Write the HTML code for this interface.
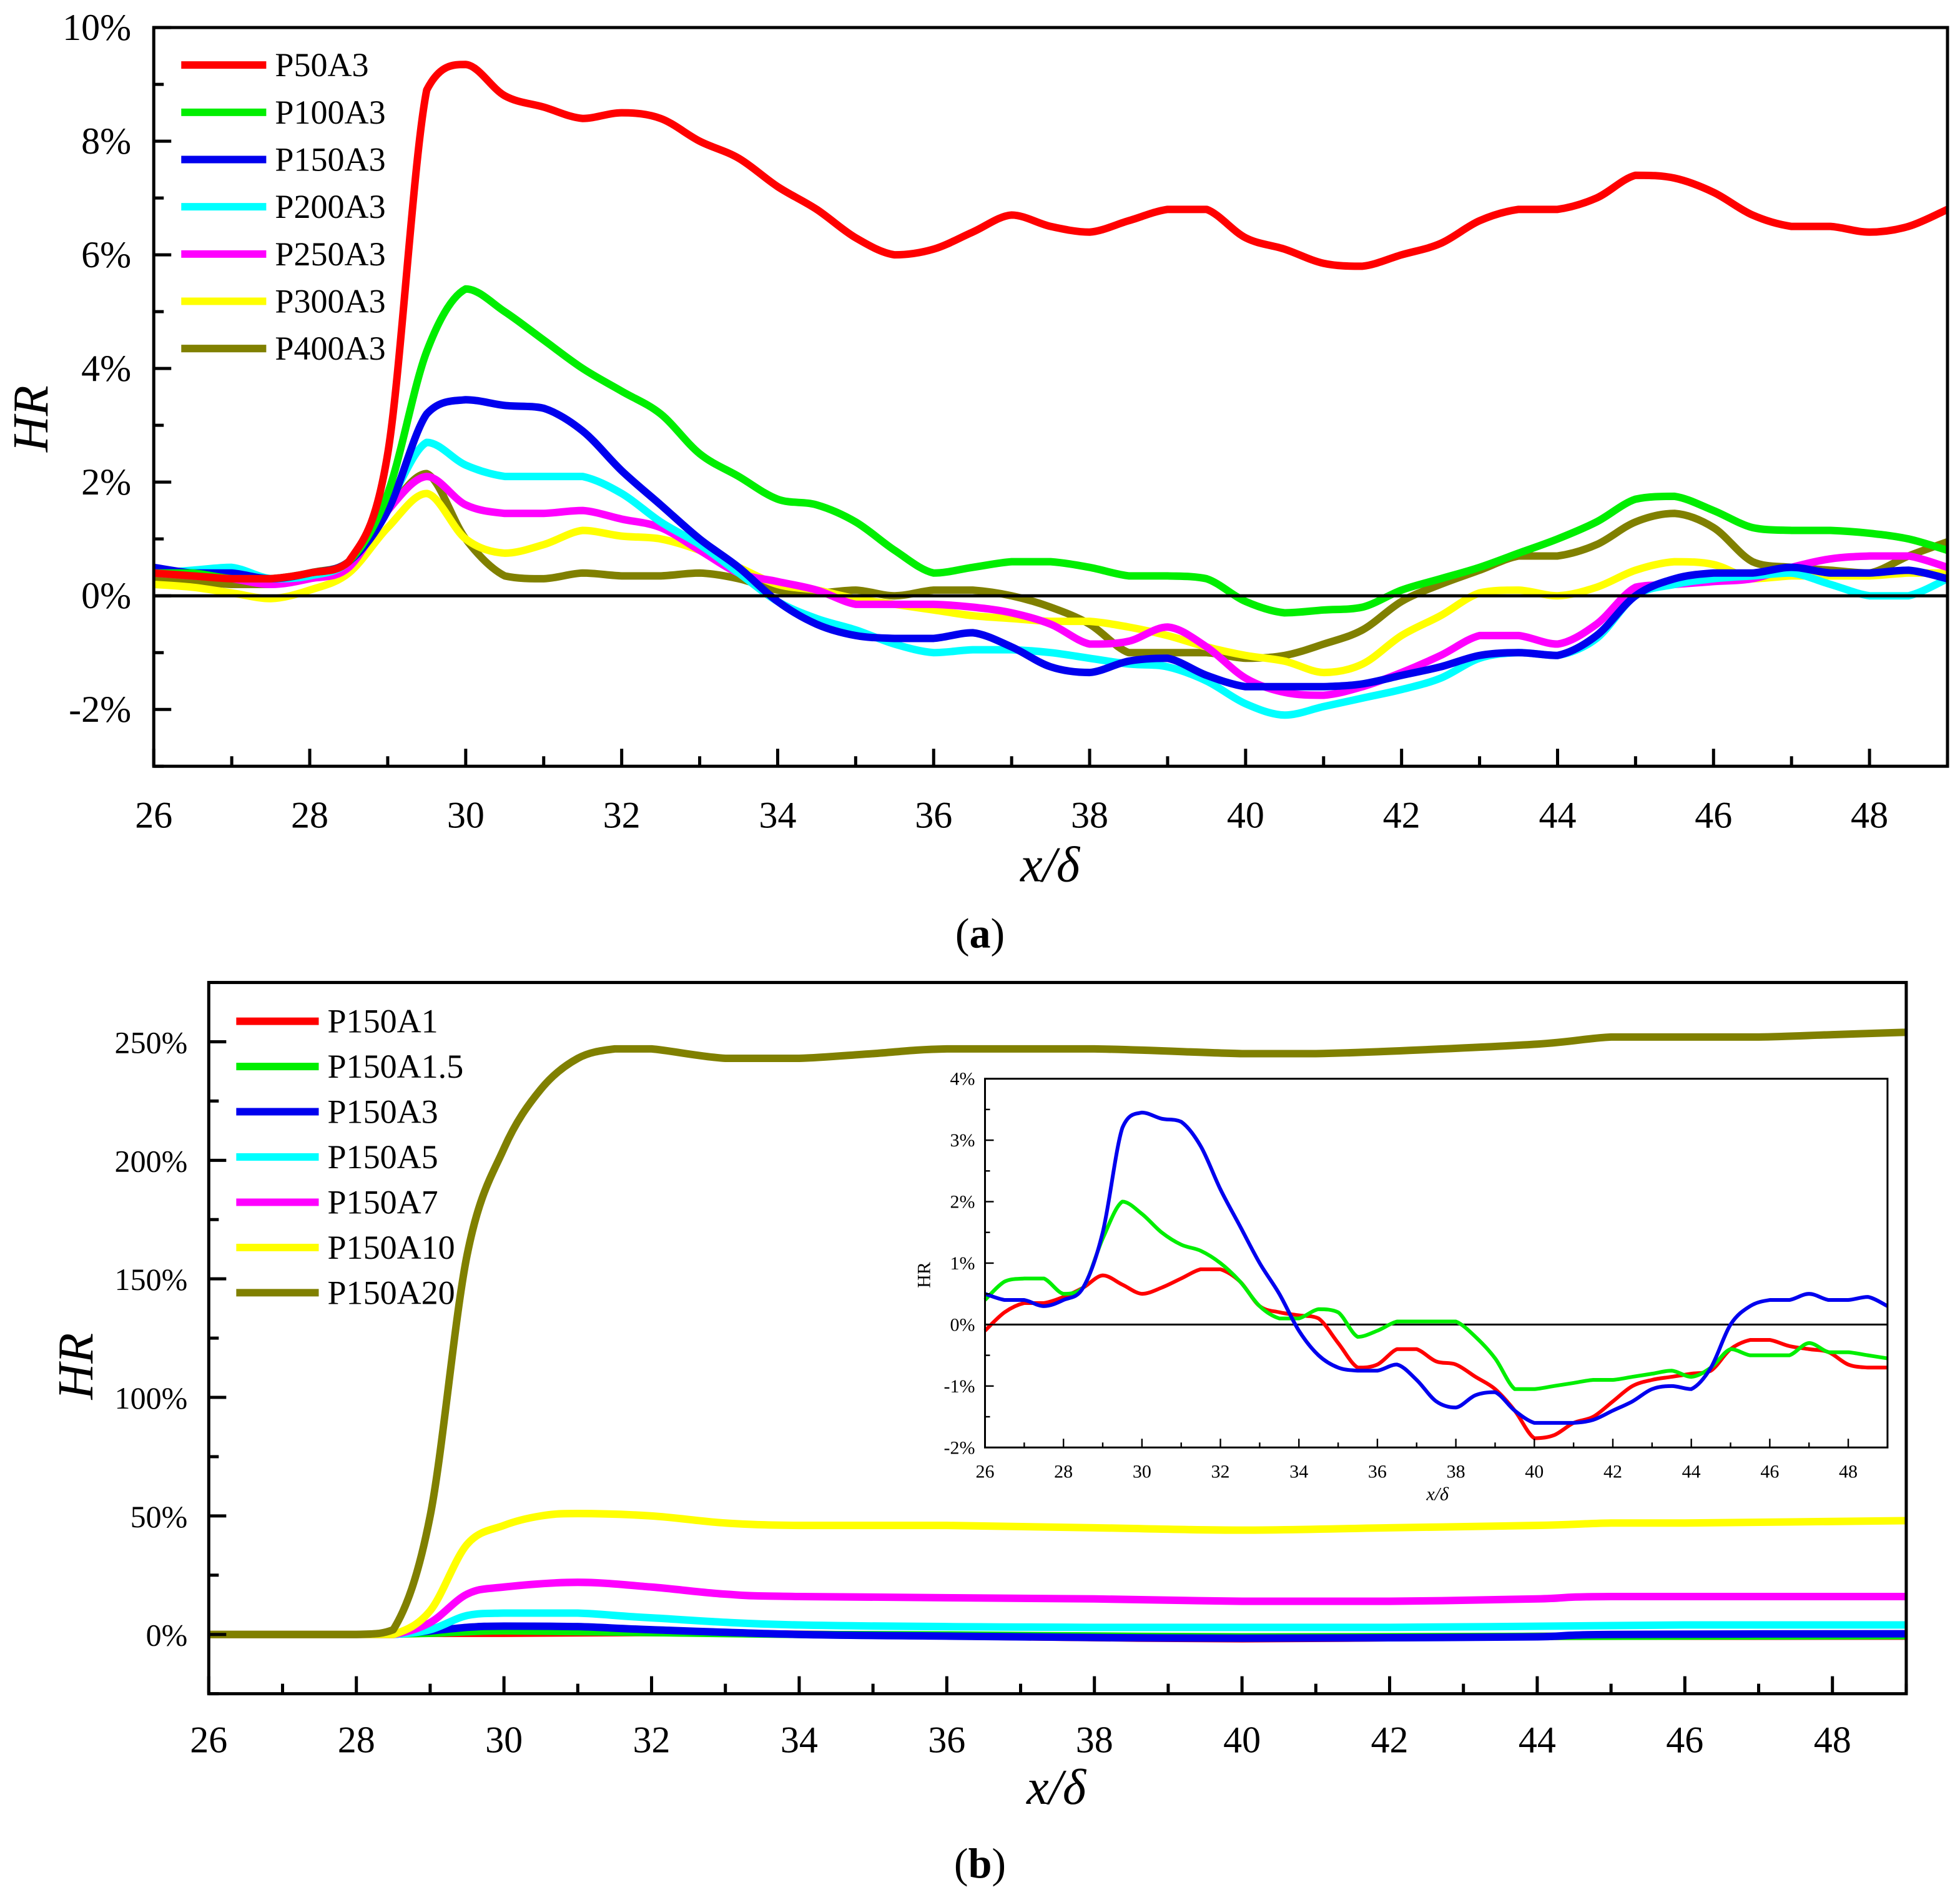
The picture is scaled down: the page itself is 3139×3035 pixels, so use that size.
<!DOCTYPE html>
<html><head><meta charset="utf-8"><style>
html,body{margin:0;padding:0;background:#fff}
svg{display:block}
text{font-family:"Liberation Serif",serif;fill:#000}
</style></head><body>
<svg id="fig" width="3139" height="3035" viewBox="0 0 1568 1516" xmlns="http://www.w3.org/2000/svg"></svg>
<script>
// ---------- Panel (a) data ----------
const xA = [26,26.5,27,27.5,28,28.5,29,29.5,30,30.5,31,31.5,32,32.5,33,33.5,34,34.5,35,35.5,36,36.5,37,37.5,38,38.5,39,39.5,40,40.5,41,41.5,42,42.5,43,43.5,44,44.5,45,45.5,46,46.5,47,47.5,48,48.5,49];
const aP50A3 = [0.4,0.35,0.3,0.3,0.4,0.6,2.5,8.9,9.35,8.8,8.6,8.4,8.5,8.4,8.0,7.7,7.2,6.8,6.3,6.0,6.1,6.4,6.7,6.5,6.4,6.6,6.8,6.8,6.3,6.1,5.85,5.8,6.0,6.2,6.6,6.8,6.8,7.0,7.4,7.35,7.1,6.7,6.5,6.5,6.4,6.5,6.8];
const aP100A3 = [0.4,0.4,0.3,0.3,0.4,0.6,1.8,4.3,5.4,5.0,4.5,4.0,3.6,3.2,2.5,2.1,1.7,1.6,1.3,0.8,0.4,0.5,0.6,0.6,0.5,0.35,0.35,0.3,-0.1,-0.3,-0.25,-0.2,0.1,0.3,0.5,0.75,1.0,1.3,1.7,1.75,1.5,1.2,1.15,1.15,1.1,1.0,0.8];
const aP150A3 = [0.5,0.4,0.4,0.3,0.4,0.6,1.5,3.2,3.45,3.35,3.3,2.9,2.2,1.6,1.0,0.5,-0.1,-0.5,-0.7,-0.75,-0.75,-0.65,-0.9,-1.25,-1.35,-1.15,-1.1,-1.4,-1.6,-1.6,-1.6,-1.55,-1.4,-1.25,-1.05,-1.0,-1.05,-0.7,0.0,0.3,0.4,0.4,0.5,0.4,0.4,0.45,0.3];
const aP200A3 = [0.4,0.45,0.5,0.3,0.35,0.6,1.6,2.7,2.3,2.1,2.1,2.1,1.8,1.3,0.9,0.4,-0.1,-0.4,-0.6,-0.85,-1.0,-0.95,-0.95,-1.0,-1.1,-1.2,-1.25,-1.5,-1.9,-2.1,-1.95,-1.8,-1.65,-1.45,-1.1,-1.0,-1.05,-0.75,0.0,0.2,0.3,0.35,0.4,0.2,0.0,0.0,0.3];
const aP250A3 = [0.4,0.35,0.3,0.2,0.3,0.5,1.5,2.1,1.6,1.45,1.45,1.5,1.35,1.2,0.8,0.4,0.25,0.1,-0.15,-0.15,-0.15,-0.2,-0.3,-0.5,-0.85,-0.8,-0.55,-0.9,-1.45,-1.7,-1.75,-1.6,-1.35,-1.05,-0.7,-0.7,-0.85,-0.5,0.15,0.2,0.25,0.3,0.5,0.65,0.7,0.7,0.5];
const aP300A3 = [0.2,0.15,0.05,-0.05,0.1,0.4,1.2,1.8,1.0,0.75,0.9,1.15,1.05,1.0,0.8,0.5,0.2,0.1,-0.05,-0.15,-0.25,-0.35,-0.4,-0.45,-0.45,-0.55,-0.7,-0.9,-1.05,-1.15,-1.35,-1.2,-0.7,-0.35,0.05,0.1,0.0,0.15,0.45,0.6,0.55,0.3,0.35,0.35,0.35,0.4,0.4];
const aP400A3 = [0.3,0.25,0.2,0.2,0.4,0.6,1.5,2.15,1.0,0.35,0.3,0.4,0.35,0.35,0.4,0.3,0.1,0.05,0.1,0.0,0.1,0.1,0.0,-0.2,-0.5,-1.0,-1.0,-1.0,-1.1,-1.05,-0.85,-0.6,-0.1,0.2,0.45,0.7,0.7,0.9,1.3,1.45,1.2,0.6,0.5,0.45,0.4,0.7,0.95];
const namesA = ["P50A3","P100A3","P150A3","P200A3","P250A3","P300A3","P400A3"];
const colorsA = ["#ff0000","#00ee00","#0000ee","#00ffff","#ff00ff","#ffff00","#808000"];
const seriesA = [aP50A3,aP100A3,aP150A3,aP200A3,aP250A3,aP300A3,aP400A3];
const yTicksA = [-2,0,2,4,6,8,10];
const xTicks = [26,28,30,32,34,36,38,40,42,44,46,48];

// ---------- Panel (b) main data ----------
const xB20 = [26,27,28,28.5,29,29.5,30,30.5,31,31.5,32,33,34,35,36,38,40,41,42,44,45,46,47,48,49];
const yB20 = [0,0,0,2,50,160,205,230,243,247,247,243,243,245,247,247,245,245,246,249,252,252,252,253,254];
const xB10 = [26,28,28.5,29,29.5,30,30.5,31,32,33,34,36,38,40,42,44,45,46,49];
const yB10 = [0,0,0,10,38,46,50,51,50,47,46,46,45,44,45,46,47,47,48];
const xB7 = [26,28,28.5,29,29.5,30,31,32,33,34,38,40,42,44,45,49];
const yB7 = [0,0,0,5,17,20,22,20,17,16,15,14,14,15,16,16];
const xB5 = [26,28,28.5,29,29.5,30,31,32,34,38,42,46,49];
const yB5 = [0,0,0,2,8,9,9,7,4,3,3,4,4];
const xB3 = [26,28,28.5,29.5,30,31,32,34,36,38,40,42,44,45,49];
const yB3 = [0,0,0,3,3.5,3.3,2,0,-0.7,-1.3,-1.6,-1.4,-1,0,0.3];
const xB15 = [26,28,29,30,32,34,36,40,44,49];
const yB15 = [0,0,0.5,1.5,0.8,0,-0.2,-1,-0.8,-0.5];
const xB1 = [26,28,29,30,32,34,36,40,44,49];
const yB1 = [0,0,0.5,0.5,0.8,0.1,-0.6,-1.8,-0.8,-0.7];
const namesB = ["P150A1","P150A1.5","P150A3","P150A5","P150A7","P150A10","P150A20"];
const colorsB = ["#ff0000","#00ee00","#0000ee","#00ffff","#ff00ff","#ffff00","#808000"];
const yTicksB = [0,50,100,150,200,250];

// ---------- Inset data ----------
const iP150A1 = [-0.1,0.2,0.35,0.35,0.45,0.6,0.8,0.65,0.5,0.6,0.75,0.9,0.9,0.7,0.3,0.2,0.15,0.1,-0.3,-0.7,-0.65,-0.4,-0.4,-0.6,-0.65,-0.85,-1.05,-1.4,-1.85,-1.8,-1.6,-1.5,-1.25,-1.0,-0.9,-0.85,-0.8,-0.75,-0.4,-0.25,-0.25,-0.35,-0.4,-0.45,-0.65,-0.7,-0.7];
const iP150A15 = [0.4,0.7,0.75,0.75,0.5,0.6,1.4,2.0,1.8,1.5,1.3,1.2,1.0,0.7,0.3,0.1,0.1,0.25,0.2,-0.2,-0.1,0.05,0.05,0.05,0.05,-0.2,-0.55,-1.05,-1.05,-1.0,-0.95,-0.9,-0.9,-0.85,-0.8,-0.75,-0.85,-0.7,-0.4,-0.5,-0.5,-0.5,-0.3,-0.45,-0.45,-0.5,-0.55];
const iP150A3 = aP150A3;
const yTicksI = [-2,-1,0,1,2,3,4];

const NS="http://www.w3.org/2000/svg";
const svg=document.getElementById('fig');
function mk(tag,attrs,parent){const e=document.createElementNS(NS,tag);for(const k in attrs)e.setAttribute(k,attrs[k]);(parent||svg).appendChild(e);return e;}
function txt(s,attrs,parent){const e=mk('text',attrs,parent);e.textContent=s;return e;}
function clampY(c,a,b){const lo=Math.min(a,b),hi=Math.max(a,b);return Math.max(lo,Math.min(hi,c));}
function smooth(pts){
  let d="M"+pts[0][0].toFixed(2)+","+pts[0][1].toFixed(2);
  for(let i=0;i<pts.length-1;i++){
    const p0=pts[Math.max(0,i-1)],p1=pts[i],p2=pts[i+1],p3=pts[Math.min(pts.length-1,i+2)];
    const c1=[p1[0]+(p2[0]-p0[0])/6,clampY(p1[1]+(p2[1]-p0[1])/6,p1[1],p2[1])];
    const c2=[p2[0]-(p3[0]-p1[0])/6,clampY(p2[1]-(p3[1]-p1[1])/6,p1[1],p2[1])];
    d+="C"+c1[0].toFixed(2)+","+c1[1].toFixed(2)+" "+c2[0].toFixed(2)+","+c2[1].toFixed(2)+" "+p2[0].toFixed(2)+","+p2[1].toFixed(2);
  }
  return d;
}

// ===== Panel (a) =====
const A={x0:123,x1:1558,y0:22,y1:613,xmin:26,xmax:49,ymin:-3,ymax:10};
function axA(v){return A.x0+(v-A.xmin)/(A.xmax-A.xmin)*(A.x1-A.x0);}
function ayA(v){return A.y1-(v-A.ymin)/(A.ymax-A.ymin)*(A.y1-A.y0);}
const gA=mk('g',{});


for(let s=seriesA.length-1;s>=0;s--){
  const p=mk('path',{d:smooth(xA.map((x,i)=>[axA(x),ayA(seriesA[s][i])])),fill:'none',stroke:colorsA[s],'stroke-width':6,'stroke-linejoin':'round'},gA);
  
  
}
const zA=mk('line',{x1:A.x0,x2:A.x1,y1:ayA(0),y2:ayA(0),stroke:'#000','stroke-width':2.5},gA);


mk('rect',{x:A.x0,y:A.y0,width:A.x1-A.x0,height:A.y1-A.y0,fill:'none',stroke:'#000','stroke-width':2.5},gA);
for(let v=26;v<=49;v++){const x=axA(v);const L=(v%2==0)?14:8;mk('line',{x1:x,x2:x,y1:A.y1,y2:A.y1-L,stroke:'#000','stroke-width':2.5},gA);}
for(let v=-3;v<=10;v++){const y=ayA(v);const L=(v%2==0)?14:8;mk('line',{x1:A.x0,x2:A.x0+L,y1:y,y2:y,stroke:'#000','stroke-width':2.5},gA);}
xTicks.forEach(v=>{const t=txt(String(v),{x:axA(v),y:662,'font-size':30,'text-anchor':'middle'},gA);});
yTicksA.forEach(v=>{const t=txt(v+'%',{x:105,y:ayA(v)+10,'font-size':30,'text-anchor':'end'},gA);});
const tya=txt('HR',{x:38,y:335,'font-size':40,'font-style':'italic',transform:'rotate(-90 38 335)','text-anchor':'middle'},gA);

const txa=txt('x/δ',{x:840,y:705,'font-size':40,'font-style':'italic','text-anchor':'middle'},gA);

const la=mk('text',{x:784,y:758,'font-size':34,'text-anchor':'middle'},gA);
la.innerHTML='(<tspan font-weight="bold">a</tspan>)';

namesA.forEach((n,i)=>{
  const y=52+i*37.8;
  const g=mk('g',{},gA);
  
  
  mk('line',{x1:145,x2:213,y1:y,y2:y,stroke:colorsA[i],'stroke-width':6},g);
  txt(n,{x:220,y:y+9,'font-size':27},g);
});

// ===== Panel (b) =====
const B={x0:167,x1:1525,y0:786,y1:1355,xmin:26,xmax:49,ymin:-25,ymax:275};
function axB(v){return B.x0+(v-B.xmin)/(B.xmax-B.xmin)*(B.x1-B.x0);}
function ayB(v){return B.y1-(v-B.ymin)/(B.ymax-B.ymin)*(B.y1-B.y0);}
const gB=mk('g',{});


const bx=[xB1,xB15,xB3,xB5,xB7,xB10,xB20], by=[yB1,yB15,yB3,yB5,yB7,yB10,yB20];
for(let s=0;s<7;s++){
  const p=mk('path',{d:smooth(bx[s].map((x,i)=>[axB(x),ayB(by[s][i])])),fill:'none',stroke:colorsB[s],'stroke-width':6,'stroke-linejoin':'round'},gB);
  
  
}
mk('rect',{x:B.x0,y:B.y0,width:B.x1-B.x0,height:B.y1-B.y0,fill:'none',stroke:'#000','stroke-width':2.5},gB);
for(let v=26;v<=49;v++){const x=axB(v);const L=(v%2==0)?14:8;mk('line',{x1:x,x2:x,y1:B.y1,y2:B.y1-L,stroke:'#000','stroke-width':2.5},gB);}
for(let v=-25;v<=275;v+=25){const y=ayB(v);const L=(v%50==0)?14:8;mk('line',{x1:B.x0,x2:B.x0+L,y1:y,y2:y,stroke:'#000','stroke-width':2.5},gB);}
xTicks.forEach(v=>{const t=txt(String(v),{x:axB(v),y:1402,'font-size':30,'text-anchor':'middle'},gB);});
yTicksB.forEach(v=>{const t=txt(v+'%',{x:150,y:ayB(v)+9,'font-size':25,'text-anchor':'end'},gB);});
const tyb=txt('HR',{x:74,y:1093,'font-size':40,'font-style':'italic',transform:'rotate(-90 74 1093)','text-anchor':'middle'},gB);

const txb=txt('x/δ',{x:845,y:1443,'font-size':40,'font-style':'italic','text-anchor':'middle'},gB);

const lb=mk('text',{x:784,y:1502,'font-size':34,'text-anchor':'middle'},gB);
lb.innerHTML='(<tspan font-weight="bold">b</tspan>)';

namesB.forEach((n,i)=>{
  const y=817+i*36.2;
  const g=mk('g',{},gB);
  
  
  mk('line',{x1:189,x2:255,y1:y,y2:y,stroke:colorsB[i],'stroke-width':6},g);
  txt(n,{x:262,y:y+9,'font-size':27},g);
});

// ===== Inset =====
const I={x0:788,x1:1510,y0:863,y1:1158,xmin:26,xmax:49,ymin:-2,ymax:4};
function axI(v){return I.x0+(v-I.xmin)/(I.xmax-I.xmin)*(I.x1-I.x0);}
function ayI(v){return I.y1-(v-I.ymin)/(I.ymax-I.ymin)*(I.y1-I.y0);}
const gI=mk('g',{});


mk('rect',{x:I.x0,y:I.y0,width:I.x1-I.x0,height:I.y1-I.y0,fill:'#fff',stroke:'none'},gI);
mk('line',{x1:I.x0,x2:I.x1,y1:ayI(0),y2:ayI(0),stroke:'#000','stroke-width':1.5},gI);
const iser=[iP150A1,iP150A15,iP150A3], icol=["#ff0000","#00ee00","#0000ee"], inames=["p150a1","p150a1-5","p150a3"];
for(let s=0;s<3;s++){
  const p=mk('path',{d:smooth(xA.map((x,i)=>[axI(x),ayI(iser[s][i])])),fill:'none',stroke:icol[s],'stroke-width':3,'stroke-linejoin':'round'},gI);
  
  
}
mk('rect',{x:I.x0,y:I.y0,width:I.x1-I.x0,height:I.y1-I.y0,fill:'none',stroke:'#000','stroke-width':1.5},gI);
for(let v=26;v<=49;v++){const x=axI(v);const L=(v%2==0)?7:4;mk('line',{x1:x,x2:x,y1:I.y1,y2:I.y1-L,stroke:'#000','stroke-width':1.2},gI);}
for(let v=-2;v<=4;v+=0.5){const y=ayI(v);const L=(v%1==0)?7:4;mk('line',{x1:I.x0,x2:I.x0+L,y1:y,y2:y,stroke:'#000','stroke-width':1.2},gI);}
xTicks.forEach(v=>{const t=txt(String(v),{x:axI(v),y:1182,'font-size':15,'text-anchor':'middle','font-family':'Liberation Sans, sans-serif'},gI);});
yTicksI.forEach(v=>{const t=txt(v+'%',{x:780,y:ayI(v)+5,'font-size':15,'text-anchor':'end','font-family':'Liberation Sans, sans-serif'},gI);});
const tyi=txt('HR',{x:744,y:1020,'font-size':15,transform:'rotate(-90 744 1020)','text-anchor':'middle'},gI);

const txi=txt('x/δ',{x:1150,y:1200,'font-size':15,'font-style':'italic','text-anchor':'middle'},gI);

</script>
</body></html>
